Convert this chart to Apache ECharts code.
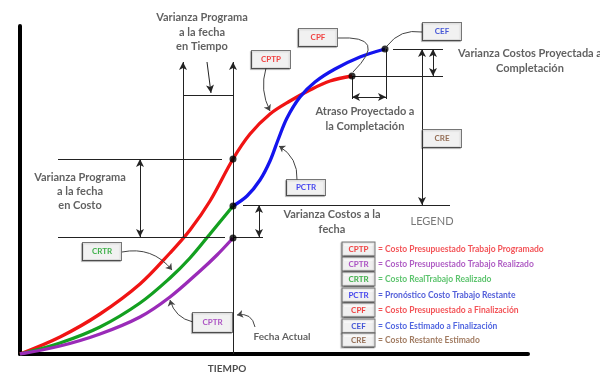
<!DOCTYPE html>
<html><head><meta charset="utf-8">
<script src="https://cdn.jsdelivr.net/npm/echarts@6/dist/echarts.min.js"></script>
<style>html,body{margin:0;padding:0;background:#fff}#c{width:600px;height:376px}</style>
</head><body><div id="c"></div>
<script>
// ---- data (time, cost) ----
const cptp = [[0,0],[40,17],[80,40],[120,70],[150,101],[170,124],[190,153],[213,195],[230,220],[250,240],[270,253],[290,264],[310,273],[332,278]];
const crtr = [[0,0],[40,11],[80,27],[120,51],[150,76],[170,96],[190,120],[213,148]];
const cptr = [[0,0],[40,8],[80,20],[120,37],[150,57],[180,83],[197,99],[213,116]];
const pctr = [[213,148],[227,158],[240,174],[250,193],[258,214],[267,236],[280,257],[295,272],[315,285],[340,297],[365,305]];
const fechaActual = 213;
const tiempoGanado = 163;
const legendCodes = ['CPTP','CPTR','CRTR','PCTR','CPF','CEF','CRE'];
const legendDescs = ['= Costo Presupuestado Trabajo Programado','= Costo Presupuestado Trabajo Realizado','= Costo RealTrabajo Realizado','= Pronóstico Costo Trabajo Restante','= Costo Presupuestado a Finalización','= Costo Estimado a Finalización','= Costo Restante Estimado'];

// ---- styles ----
const col = {CPTP:'#f01414',CPTR:'#9a2bb8',CRTR:'#13a020',PCTR:'#1414ee',CPF:'#f01414',CEF:'#1a2fd0',CRE:'#7a4a2a'};
const descCol = {CPTP:'#f0282d',CPTR:'#9b35b5',CRTR:'#35b54a',PCTR:'#2535d0',CPF:'#f0282d',CEF:'#2540d8',CRE:'#8a5a3a'};
const FF = 'Lato';
const valAt = (arr, t) => arr.find(p => p[0] === t)[1];
const last = arr => arr[arr.length - 1];
const cptpHoy = valAt(cptp, fechaActual), crtrHoy = valAt(crtr, fechaActual), cptrHoy = valAt(cptr, fechaActual);
const cpf = last(cptp), cef = last(pctr);
const topY = 292;

function seg(a, b, s0, s1) {
  return [{coord: a, symbol: s0 || 'none'}, {coord: b, symbol: s1 || 'none'}];
}
const guides = [
  seg([fechaActual,0],[fechaActual,topY],'none','arrow'),
  seg([tiempoGanado,cptrHoy+1],[tiempoGanado,topY],'none','arrow'),
  seg([tiempoGanado,259],[fechaActual,259]),
  seg([187,topY],[191,261],'none','arrow'),
  seg([38,cptpHoy],[202,cptpHoy]),
  seg([38,cptrHoy+1],[205,cptrHoy+1]),
  seg([120,cptpHoy],[120,cptrHoy+1],'arrow','arrow'),
  seg([223,crtrHoy+1],[430,crtrHoy+1]),
  seg([fechaActual,cptrHoy+1],[243,cptrHoy+1]),
  seg([239,crtrHoy+1],[239,cptrHoy+1],'arrow','arrow'),
  seg([373,cef[1]],[423,cef[1]]),
  seg([cpf[0],cpf[1]],[423,cpf[1]]),
  seg([413,cef[1]],[413,cpf[1]],'arrow','arrow'),
  seg([402,cef[1]],[402,crtrHoy+1],'arrow','arrow'),
  seg([cpf[0],cpf[1]],[cpf[0],255]),
  seg([cef[0]+1,cef[1]],[cef[0]+1,255]),
  seg([cpf[0],257],[cef[0]+1,257],'arrow','arrow')
];
// curved connectors from label boxes (lines series supports curveness)
const conn = (a, b, c) => ({coords: [a, b], lineStyle: {curveness: c}});
const connArrow = [
  conn([246,286],[250,243],-0.2),
  conn([277,174],[259,208],-0.3),
  conn([102,102],[152,84],0.3),
  conn([173,32],[150,54],0.3),
  conn([235,27],[217,39],-0.5)
];
const connPlain = [
  conn([318,316],[333,282],1.3),
  conn([402,322],[367,308],-0.3)
];

function box(code, pos, w, h) {
  return {value: pos, label: {show: true, position: 'inside', formatter: code, color: col[code],
    fontSize: 8, fontWeight: 'bold', fontFamily: FF, backgroundColor: '#fff', borderColor: '#555',
    borderWidth: 1, width: w || 38, height: h || 17, lineHeight: h || 17, align: 'center', verticalAlign: 'middle',
    shadowColor: 'rgba(0,0,0,0.35)', shadowOffsetX: -1, shadowOffsetY: 1, shadowBlur: 1}};
}
function txt(str, pos, opt) {
  return {value: pos, label: Object.assign({show: true, position: 'inside', formatter: str, color: '#3a3a3a',
    fontSize: 11, fontWeight: 'bold', fontFamily: FF, lineHeight: 14.5, align: 'center', verticalAlign: 'middle'}, opt || {})};
}
const legendY = [105,90,75,59,44,28,14];
const labelItems = [
  box('CPTP',[251,294.5]), box('CPF',[298,316.5]), box('CEF',[422,322.5]), box('PCTR',[286,166.5],38,15),
  box('CRTR',[82,102.5]), box('CPTR',[192.5,31.5],39,19), box('CRE',[422,215.5]),
  txt('Varianza Programa\na la fecha\nen Tiempo',[182,322]),
  txt('Varianza Programa\na la fecha\nen Costo',[60,163],{lineHeight:14}),
  txt('Atraso Proyectado a\nla Completación',[345,235]),
  txt('Varianza Costos Proyectada a\nCompletación',[510,293]),
  txt('Varianza Costos a la\nfecha',[312,132]),
  txt('LEGEND',[412,133],{fontWeight:'normal',color:'#555'}),
  txt('Fecha Actual',[262,17],{fontSize:10}),
  txt('TIEMPO',[207,-15],{fontSize:10,color:'#222'})
];
legendCodes.forEach((c, i) => {
  labelItems.push(box(c, [338.5, legendY[i]], 32, 13));
  labelItems.push({value: [358, legendY[i]], label: {show: true, position: [0,0], formatter: legendDescs[i],
    color: descCol[c], fontSize: 8.5, fontWeight: 'bold', fontFamily: FF, align: 'left', verticalAlign: 'middle'}});
});

const curve = (name, data, color) => ({type: 'line', name, data, smooth: 0.35, symbol: 'none',
  lineStyle: {color, width: 3.3}, z: 3, silent: true});
const connSeries = (data, arrow) => ({type: 'lines', coordinateSystem: 'cartesian2d', silent: true, z: 4,
  symbol: arrow ? ['none','arrow'] : ['none','none'], symbolSize: 6,
  lineStyle: {color: '#444', width: 1, opacity: 1}, data});

const chart = echarts.init(document.getElementById('c'), null, {renderer: 'canvas'});
chart.setOption({
  animation: false,
  backgroundColor: '#fff',
  grid: {left: 20, right: 72, top: 26, bottom: 22},
  xAxis: {type: 'value', min: 0, max: 508, axisLine: {onZero: false, lineStyle: {color: '#000', width: 4}},
    axisTick: {show: false}, axisLabel: {show: false}, splitLine: {show: false}},
  yAxis: {type: 'value', min: 0, max: 328, axisLine: {show: true, onZero: false, lineStyle: {color: '#000', width: 4}},
    axisTick: {show: false}, axisLabel: {show: false}, splitLine: {show: false}},
  series: [
    curve('CPTP', cptp, col.CPTP),
    curve('CRTR', crtr, col.CRTR),
    curve('CPTR', cptr, col.CPTR),
    curve('PCTR', pctr, col.PCTR),
    {type: 'line', data: [], silent: true, markLine: {silent: true, animation: false, symbolSize: [6, 8],
      label: {show: false}, lineStyle: {color: '#222', width: 1, type: 'solid'}, emphasis: {disabled: true}, data: guides}},
    connSeries(connArrow, true),
    connSeries(connPlain, false),
    {type: 'scatter', symbolSize: 7, itemStyle: {color: '#000'}, z: 5, silent: true,
      data: [[fechaActual, cptpHoy], [fechaActual, crtrHoy], [fechaActual, cptrHoy], cpf, cef]},
    {type: 'scatter', symbolSize: 0, clip: false, silent: true, z: 6, data: labelItems}
  ]
});
</script></body></html>
